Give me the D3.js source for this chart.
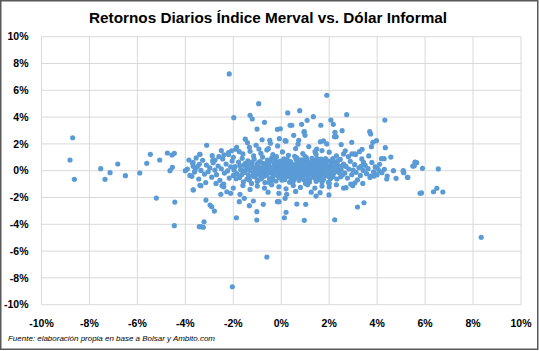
<!DOCTYPE html>
<html>
<head>
<meta charset="utf-8">
<script src="https://cdn.jsdelivr.net/npm/d3@7"></script>
<style>
  html, body { margin: 0; padding: 0; background: #fff; }
  svg { display: block; }
</style>
</head>
<body>
<div id="chart"></div>
<script>
// Scatter: daily returns, Merval (y) vs. informal dollar (x), both in %.

const TITLE  = "Retornos Diarios Índice Merval vs. Dólar Informal";
const SOURCE = "Fuente: elaboración propia en base a Bolsar y Ambito.com";

const X_TICKS = [-10, -8, -6, -4, -2, 0, 2, 4, 6, 8, 10];
const Y_TICKS = [10, 8, 6, 4, 2, 0, -2, -4, -6, -8, -10];

// [dólar %, merval %] — isolated points
const outliers = [
  [-8.70, 2.46], [-8.81, 0.80], [-8.63, -0.64], [-7.53, 0.15], [-7.35, -0.64], [-7.14, -0.15],
  [-6.82, 0.50], [-6.50, -0.37], [-5.90, -0.17], [-5.61, 0.55], [-5.46, 1.22], [-5.07, 0.80],
  [-5.21, -2.04], [-4.75, 1.32], [-4.56, 1.17], [-4.46, 1.30], [-4.64, 0.00], [-4.54, 0.25],
  [-4.44, -2.34], [-4.46, -4.10], [-4.00, 0.00], [-3.85, 0.80], [-3.68, 0.63], [-3.67, 0.33],
  [-3.58, 0.20], [-3.60, -0.02], [-3.73, -0.42], [-3.67, -1.42], [-3.42, 0.48], [-3.39, 1.22],
  [-3.39, -1.09], [-3.42, -4.18], [-3.14, -2.19], [-2.97, -2.56], [-2.90, -2.69], [-2.79, -3.01],
  [-3.22, -3.81], [-3.35, -4.18], [-3.25, -4.22], [-3.67, -1.44], [-3.35, -1.12], [-2.47, -1.12],
  [-2.52, -1.76], [-2.27, -1.57], [-2.11, -1.69], [-1.87, -3.51], [-1.75, -2.31], [-1.72, -1.76],
  [-1.54, -2.06], [-1.33, -2.61], [-1.16, -2.26], [-1.02, -3.06], [-1.02, -3.68], [-0.75, -2.51],
  [-0.60, -6.44], [-2.04, -8.66], [-0.16, -2.31], [-0.09, -2.31], [-0.10, -1.69], [0.16, -2.06],
  [0.23, -1.76], [0.20, -3.10], [0.13, -3.51], [0.65, -2.49], [0.96, -3.70], [1.02, -2.51],
  [-2.17, 7.22], [-0.94, 5.00], [-1.98, 3.96], [-1.30, 4.13], [-1.21, 3.86], [-0.70, 3.61],
  [-1.01, 3.11], [0.27, 4.31], [0.77, 4.48], [1.08, 3.76], [-0.16, 3.09], [-0.04, 3.13],
  [0.37, 3.39], [0.44, 3.39], [0.85, 3.46], [-3.11, 1.90], [-0.80, 2.31], [-0.48, 2.27],
  [-0.08, 2.39], [-1.41, 2.09], [0.52, 2.64], [0.16, 2.24], [0.96, 2.91], [0.73, 2.27],
  [-3.40, 1.22], [-2.07, 1.49], [-1.86, 1.75], [-1.75, 1.42], [-2.76, 0.80], [-2.86, 0.75],
  [-2.39, 1.19], [-1.33, 1.75], [-0.93, 1.62], [-0.54, 1.64],
  [1.90, 5.63], [2.73, 4.18], [4.32, 3.78], [2.07, 3.78], [2.17, 3.46], [1.34, 4.03],
  [1.65, 3.39], [2.54, 2.99], [2.24, 2.87], [2.22, 2.54], [2.29, 2.54], [3.69, 2.91],
  [3.73, 2.74], [2.94, 2.12], [3.97, 2.24], [3.82, 2.12], [3.76, 1.79], [4.34, 1.72],
  [3.37, 1.60], [3.26, 1.42], [2.67, 1.49], [4.18, 0.90], [4.29, 0.90], [4.57, 1.02],
  [5.58, 0.65], [5.49, 0.35], [4.68, 0.00], [5.09, 0.00], [5.28, -0.50], [4.79, -0.57],
  [4.08, 0.00], [4.01, 0.18], [3.07, 1.25], [2.95, 1.25], [3.43, 0.63], [3.33, 0.33],
  [1.63, 2.16], [1.76, 2.22], [0.95, 2.89], [0.99, 2.64], [1.41, 1.42], [1.48, 1.62],
  [1.45, -1.89], [1.62, -1.64], [1.99, -1.81], [2.23, -3.66], [3.18, -2.71], [3.45, -2.39],
  [2.70, -1.27], [2.98, -1.12], [3.07, -0.90], [3.73, -0.40], [3.87, -0.40], [4.40, -0.62],
  [5.26, -0.49], [5.09, -0.07], [5.55, 0.37], [5.65, 0.60], [5.79, -1.69], [8.34, -4.97],
  [5.11, -0.15], [5.51, 0.35], [5.59, 0.63], [5.89, 0.18], [5.85, -1.66], [6.35, -1.57],
  [6.49, -1.31], [6.74, -1.59], [6.55, 0.13]
];

// dense cloud around the origin
const nucleo = [
  [-1.92, 0.31], [-1.85, -0.22], [-1.78, 0.64], [-1.74, -0.51], [-1.69, 0.08], [-1.63, 0.92],
  [-1.58, -0.84], [-1.55, 0.41], [-1.51, -0.13], [-1.47, 0.19], [-1.43, -0.62], [-1.39, 0.73],
  [-1.36, -0.35], [-1.31, 0.02], [-1.27, 0.55], [-1.24, -0.95], [-1.20, 0.27], [-1.16, -0.18],
  [-1.13, 0.86], [-1.09, -0.46], [-1.05, 0.12], [-1.02, 0.47], [-0.98, -0.71], [-0.95, 0.03],
  [-0.91, -0.29], [-0.88, 0.68], [-0.84, 0.21], [-0.81, -0.55], [-0.78, 1.02], [-0.74, -0.08],
  [-0.71, 0.38], [-0.68, -0.88], [-0.65, 0.15], [-0.61, -0.33], [-0.58, 0.79], [-0.55, -0.02],
  [-0.52, 0.52], [-0.49, -0.61], [-0.46, 0.27], [-0.43, -0.17], [-0.40, 0.94], [-0.37, 0.06],
  [-0.34, -0.42], [-0.31, 0.61], [-0.28, -0.09], [-0.25, 0.33], [-0.22, -0.77], [-0.19, 0.11],
  [-0.16, 0.46], [-0.13, -0.26], [-0.10, 0.20], [-0.07, -0.53], [-0.04, 0.72], [-0.01, -0.04],
  [0.02, 0.37], [0.05, -0.31], [0.08, 0.08], [0.11, 0.89], [0.14, -0.67], [0.17, 0.24],
  [0.20, -0.12], [0.23, 0.55], [0.26, -0.44], [0.29, 0.02], [0.32, 0.31], [0.35, -0.86],
  [0.38, 0.67], [0.41, -0.20], [0.44, 0.14], [0.47, -0.49], [0.50, 0.43], [0.53, -0.05],
  [0.56, 1.08], [0.59, 0.19], [0.62, -0.36], [0.65, 0.58], [0.68, -0.14], [0.71, 0.07],
  [0.74, -0.72], [0.77, 0.35], [0.80, -0.27], [0.83, 0.81], [0.86, 0.01], [0.89, -0.52],
  [0.92, 0.26], [0.95, -0.09], [0.98, 0.49], [1.01, -0.95], [1.04, 0.12], [1.07, -0.31],
  [1.10, 0.70], [1.13, -0.02], [1.16, 0.38], [1.19, -0.60], [1.22, 0.17], [1.25, -0.19],
  [1.28, 0.93], [1.31, 0.05], [1.34, -0.41], [1.37, 0.52], [1.40, -0.11], [1.43, 0.29],
  [1.46, -0.79], [1.49, 0.63], [1.52, 0.00], [1.55, -0.28], [1.58, 0.41], [1.61, -0.50],
  [1.64, 0.15], [1.67, 0.86], [1.70, -0.16], [1.73, 0.34], [1.76, -0.66], [1.79, 0.09],
  [1.82, 0.56], [1.85, -0.35], [1.88, 0.22], [1.91, -0.04], [1.94, 0.74], [1.97, -0.87],
  [2.00, 0.28], [2.04, -0.21], [2.08, 0.47], [2.12, 0.03], [2.16, -0.45], [2.20, 0.65],
  [2.24, -0.07], [2.28, 0.18], [2.32, -0.62], [2.36, 0.39], [2.41, -0.14], [2.46, 0.84],
  [2.50, 0.06], [2.55, -0.33], [2.60, 0.50],
  [-1.50, 0.55], [-1.20, -0.40], [-0.90, 0.15], [-0.62, 0.48], [-0.35, -0.20], [-0.20, 0.62],
  [0.00, 0.15], [0.15, -0.05], [0.30, 0.45], [0.45, -0.25], [0.60, 0.28], [0.75, 0.02],
  [0.90, -0.18], [1.05, 0.42], [1.20, 0.06], [1.35, 0.25], [1.50, -0.38], [1.65, 0.48],
  [1.80, -0.12], [1.95, 0.35], [-0.80, -0.15], [-0.55, 0.30], [-0.30, 0.10], [-0.05, -0.15],
  [0.10, 0.50], [0.35, 0.18], [0.55, -0.58], [0.70, 0.66], [0.85, 0.40], [1.00, -0.30],
  [1.15, 0.58], [1.30, -0.25], [1.45, 0.10], [1.60, 0.30], [1.75, 0.62], [1.90, 0.12],
  [2.05, -0.60], [2.20, 0.25], [2.35, 0.72], [2.48, -0.46], [-1.65, -0.30], [-1.40, 0.35],
  [-1.10, 0.05], [-0.95, 0.60], [-0.70, -0.40], [-0.45, 0.00], [-0.15, -0.38], [0.25, 0.82],
  [0.50, -0.78], [0.65, 0.95], [0.80, 0.15], [0.95, 0.75], [1.10, -0.70], [1.25, 0.45],
  [1.40, 0.78], [1.55, 0.20], [1.70, -0.85], [1.85, 0.90], [2.00, -0.95], [2.15, 0.90],
  [-1.88, -0.60], [-1.72, 0.38], [-1.57, -0.05], [-1.44, 0.12], [-1.33, -0.70], [-1.22, 0.62],
  [-1.08, -0.25], [-0.97, 0.32], [-0.86, -0.62], [-0.76, 0.55], [-0.66, 0.22], [-0.57, -0.19],
  [-0.48, 0.72], [-0.39, -0.55], [-0.29, 0.40], [-0.18, -0.05], [-0.08, 0.52], [0.03, -0.70],
  [0.12, 0.32], [0.21, 0.05], [0.31, -0.22], [0.40, 0.62], [0.49, 0.10], [0.58, -0.40],
  [0.67, 0.40], [0.76, -0.50], [0.84, 0.58], [0.93, 0.05], [1.03, 0.68], [1.12, -0.42],
  [1.21, 0.30], [1.30, 0.65], [1.39, -0.55], [1.48, 0.42], [1.57, -0.65], [1.66, -0.35],
  [1.76, 0.20], [1.86, 0.45], [1.96, -0.42], [2.06, 0.12], [2.18, -0.20], [2.27, 0.55],
  [2.38, 0.02], [2.52, 0.35], [-0.60, 0.05], [-0.25, 0.80], [0.18, 0.70], [0.62, 0.85],
  [1.05, 0.95], [1.50, 0.90], [-0.35, -0.70], [0.10, -0.48], [0.72, -0.35], [1.18, -0.85],
  [1.62, 0.70], [2.10, 0.72], [-1.00, -0.80], [-0.50, -0.88], [0.42, -0.65], [0.95, -0.68]
];

// looser points around the cloud
const periferia = [
  [-3.92, 0.12], [-3.81, -0.35], [-3.70, 0.55], [-3.62, -0.10], [-3.50, 0.31], [-3.44, -0.62],
  [-3.35, 0.02], [-3.28, 0.78], [-3.20, -0.25], [-3.12, 0.42], [-3.05, -0.08], [-2.98, 0.21],
  [-2.90, -0.48], [-2.84, 0.60], [-2.77, 0.05], [-2.70, -0.30], [-2.63, 0.35], [-2.56, -0.72],
  [-2.50, 0.14], [-2.44, 0.88], [-2.37, -0.18], [-2.30, 0.50], [-2.24, -0.02], [-2.17, -0.55],
  [-2.11, 0.28], [-2.05, 0.72], [-2.00, -0.35], [-1.97, 0.05], [-2.60, 1.05], [-3.15, -0.88],
  [-2.88, 1.12], [-2.40, -1.00], [-2.20, 1.20], [-3.55, 0.95], [-2.72, -0.95],
  [2.65, -0.18], [2.70, 0.32], [2.76, -0.55], [2.82, 0.12], [2.88, 0.70], [2.94, -0.30],
  [3.00, 0.05], [3.06, 0.45], [3.12, -0.12], [3.18, -0.68], [3.24, 0.22], [3.30, -0.35],
  [3.36, 0.88], [3.42, 0.02], [3.50, 0.40], [3.56, -0.22], [3.62, 0.15], [3.70, -0.50],
  [3.78, 0.62], [3.85, -0.08], [3.92, 0.28], [4.00, -0.30], [4.10, 0.48], [4.20, -0.15],
  [4.30, 0.10], [4.42, -0.40], [2.80, 1.05], [3.10, 1.20], [3.40, -0.95], [2.90, -1.00],
  [3.65, 1.10],
  [-2.50, 1.50], [-2.20, 1.35], [-1.90, 1.60], [-1.60, 1.25], [-1.30, 1.45], [-1.05, 1.90],
  [-0.85, 1.30], [-0.60, 1.55], [-0.35, 1.20], [-0.15, 1.85], [0.05, 1.40], [0.30, 1.15],
  [0.60, 1.65], [0.90, 1.28], [1.15, 1.80], [1.45, 1.22], [1.70, 1.50], [2.00, 1.38],
  [2.30, 1.10], [2.50, 1.95], [-1.15, 1.10], [-0.45, 2.05], [0.20, 2.20], [0.70, 1.98],
  [1.90, 2.00], [-2.00, 1.00], [1.00, 1.05], [-0.20, 1.05], [2.60, 1.25], [-1.50, 2.35],
  [-2.40, -1.20], [-2.00, -1.30], [-1.60, -1.10], [-1.30, -1.40], [-1.00, -1.15], [-0.70, -1.30],
  [-0.40, -1.05], [-0.10, -1.20], [0.20, -1.35], [0.50, -1.10], [0.80, -1.25], [1.10, -1.05],
  [1.40, -1.30], [1.70, -1.15], [2.00, -1.20], [2.30, -1.05], [2.60, -1.30], [-0.55, -1.60],
  [0.60, -1.55], [1.25, -1.60]
];

const retornos = [...outliers, ...nucleo, ...periferia];

const W = 539, H = 351;
const plot = { left: 41.5, right: 521, top: 36.7, bottom: 304.7 };

const svg = d3.select("#chart").append("svg").attr("width", W).attr("height", H);

const x = d3.scaleLinear().domain([-10, 10]).range([plot.left, plot.right]);
const y = d3.scaleLinear().domain([-10, 10]).range([plot.bottom, plot.top]);

// gridlines
svg.append("g").selectAll("line").data(X_TICKS).join("line")
  .attr("x1", d => x(d)).attr("x2", d => x(d))
  .attr("y1", plot.top).attr("y2", plot.bottom)
  .attr("stroke", "#d9d9d9").attr("stroke-width", 1);
svg.append("g").selectAll("line").data(Y_TICKS).join("line")
  .attr("x1", plot.left).attr("x2", plot.right)
  .attr("y1", d => y(d)).attr("y2", d => y(d))
  .attr("stroke", "#d9d9d9").attr("stroke-width", 1);

// tick labels
const fmt = d => d + "%";
svg.append("g").selectAll("text").data(Y_TICKS).join("text")
  .attr("x", 28.5).attr("y", d => y(d)).attr("dy", "0.35em")
  .attr("text-anchor", "end")
  .style("font-family", "'Liberation Sans', Arial, sans-serif")
  .style("font-size", "10.5px").style("font-weight", "bold").style("fill", "#000")
  .text(fmt);
svg.append("g").selectAll("text").data(X_TICKS).join("text")
  .attr("x", d => x(d)).attr("y", 326.5)
  .attr("text-anchor", "middle")
  .style("font-family", "'Liberation Sans', Arial, sans-serif")
  .style("font-size", "10.5px").style("font-weight", "bold").style("fill", "#000")
  .text(fmt);

// points
svg.append("g").selectAll("circle").data(retornos).join("circle")
  .attr("cx", d => x(d[0])).attr("cy", d => y(d[1]))
  .attr("r", 2.6).attr("fill", "#5b9bd5");

// title
svg.append("text")
  .attr("x", 268).attr("y", 23).attr("text-anchor", "middle")
  .attr("textLength", 358).attr("lengthAdjust", "spacingAndGlyphs")
  .style("font-family", "'Liberation Sans', Arial, sans-serif")
  .style("font-size", "15px").style("font-weight", "bold").style("fill", "#000")
  .text(TITLE);

// source note
svg.append("text")
  .attr("x", 8).attr("y", 341)
  .attr("textLength", 207).attr("lengthAdjust", "spacingAndGlyphs")
  .style("font-family", "'Liberation Sans', Arial, sans-serif")
  .style("font-size", "7.5px").style("font-style", "italic").style("fill", "#000")
  .text(SOURCE);

// chart frame
svg.append("rect")
  .attr("x", 0.75).attr("y", 0.75).attr("width", 537).attr("height", 348.5)
  .attr("fill", "none").attr("stroke", "#595959").attr("stroke-width", 1.5);
</script>
</body>
</html>
